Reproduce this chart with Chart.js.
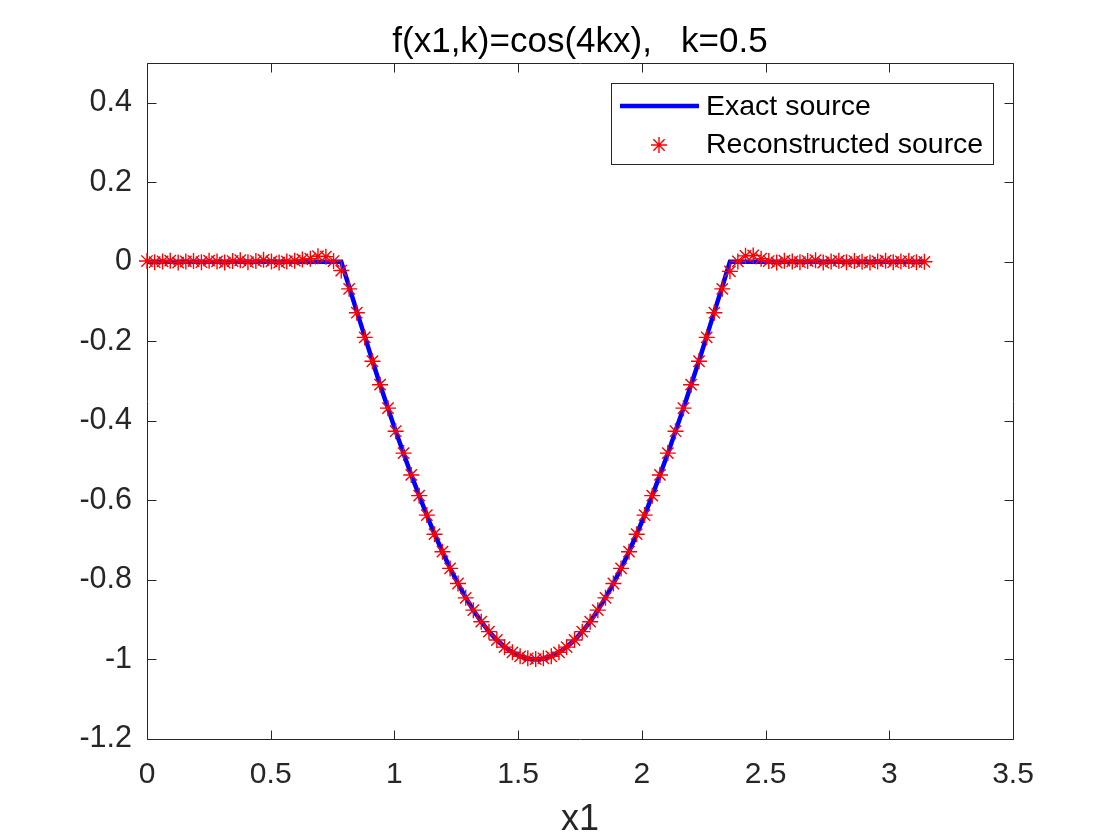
<!DOCTYPE html>
<html>
<head>
<meta charset="utf-8">
<title>f(x1,k)=cos(4kx), k=0.5</title>
<script src="https://cdn.jsdelivr.net/npm/chart.js@4.4.1/dist/chart.umd.min.js"></script>
<style>
  html, body { margin: 0; padding: 0; background: #fff; }
  #wrap { width: 1120px; height: 840px; }
</style>
</head>
<body>
<div id="wrap"><canvas id="chart"></canvas></div>
<script>
// sample positions x1 (0 .. pi)
const xValues = [
  0.000, 0.031, 0.063, 0.094, 0.126, 0.157, 0.188, 0.220, 0.251, 0.283,
  0.314, 0.346, 0.377, 0.408, 0.440, 0.471, 0.503, 0.534, 0.565, 0.597,
  0.628, 0.660, 0.691, 0.723, 0.754, 0.785, 0.817, 0.848, 0.880, 0.911,
  0.942, 0.974, 1.005, 1.037, 1.068, 1.100, 1.131, 1.162, 1.194, 1.225,
  1.257, 1.288, 1.319, 1.351, 1.382, 1.414, 1.445, 1.477, 1.508, 1.539,
  1.571, 1.602, 1.634, 1.665, 1.696, 1.728, 1.759, 1.791, 1.822, 1.853,
  1.885, 1.916, 1.948, 1.979, 2.011, 2.042, 2.073, 2.105, 2.136, 2.168,
  2.199, 2.231, 2.262, 2.293, 2.325, 2.356, 2.388, 2.419, 2.450, 2.482,
  2.513, 2.545, 2.576, 2.608, 2.639, 2.670, 2.702, 2.733, 2.765, 2.796,
  2.827, 2.859, 2.890, 2.922, 2.953, 2.985, 3.016, 3.047, 3.079, 3.110,
  3.142
]

const exactValues = [
  0, 0, 0, 0, 0, 0, 0, 0, 0, 0,
  0, 0, 0, 0, 0, 0, 0, 0, 0, 0,
  0, 0, 0, 0, 0, 0, -0.0628, -0.1253, -0.1874, -0.2487,
  -0.3090, -0.3681, -0.4258, -0.4818, -0.5358, -0.5878, -0.6374, -0.6845, -0.7290, -0.7705,
  -0.8090, -0.8443, -0.8763, -0.9048, -0.9298, -0.9511, -0.9686, -0.9823, -0.9921, -0.9980,
  -1.0000, -0.9980, -0.9921, -0.9823, -0.9686, -0.9511, -0.9298, -0.9048, -0.8763, -0.8443,
  -0.8090, -0.7705, -0.7290, -0.6845, -0.6374, -0.5878, -0.5358, -0.4818, -0.4258, -0.3681,
  -0.3090, -0.2487, -0.1874, -0.1253, -0.0628, 0, 0, 0, 0, 0,
  0, 0, 0, 0, 0, 0, 0, 0, 0, 0,
  0, 0, 0, 0, 0, 0, 0, 0, 0, 0,
  0
]

const reconValues = [
  0.002, -0.001, 0.001, 0.003, -0.002, 0.001, 0.002, -0.001, 0.003, 0.001,
  -0.002, 0.002, 0.004, -0.001, 0.002, 0.005, 0.001, -0.002, 0.001, 0.003,
  0.006, 0.008, 0.014, 0.013, 0.002, -0.022, -0.068, -0.128, -0.190, -0.250,
  -0.309, -0.368, -0.426, -0.481, -0.536, -0.588, -0.637, -0.685, -0.729, -0.771,
  -0.809, -0.845, -0.876, -0.905, -0.930, -0.951, -0.969, -0.982, -0.992, -0.997,
  -0.999, -0.997, -0.992, -0.982, -0.969, -0.951, -0.930, -0.905, -0.876, -0.845,
  -0.809, -0.771, -0.729, -0.685, -0.637, -0.588, -0.536, -0.481, -0.426, -0.368,
  -0.309, -0.250, -0.190, -0.128, -0.068, -0.024, 0.001, 0.015, 0.016, 0.008,
  0.002, -0.002, 0.003, 0.001, -0.001, 0.002, 0.004, -0.002, 0.001, 0.003,
  -0.001, 0.002, 0.000, -0.002, 0.001, 0.003, -0.001, 0.001, 0.002, -0.001,
  0.000
]

const xTicks = [0, 0.5, 1, 1.5, 2, 2.5, 3, 3.5]
const yTicks = [-1.2, -1, -0.8, -0.6, -0.4, -0.2, 0, 0.2, 0.4]
const seriesLabels = ['Exact source', 'Reconstructed source']
const titleText = 'f(x1,k)=cos(4kx),   k=0.5'
const xLabel = 'x1'

const FONT = '"Liberation Sans", Arial, Helvetica, sans-serif'
const AXIS_COLOR = '#262626'

const toPoints = ys => ys.map((y, i) => ({ x: xValues[i], y: y }))

// matlab style box with inward ticks on all four sides
const axesBox = {
	id: 'axesBox',
	beforeDatasetsDraw: (chart) => {
		const { ctx, chartArea: a, scales } = chart
		const len = 9
		ctx.save()
		ctx.strokeStyle = AXIS_COLOR
		ctx.lineWidth = 1
		ctx.beginPath()
		const l = Math.round(a.left) + 0.5, r = Math.round(a.right) + 0.5
		const t = Math.round(a.top) + 0.5, b = Math.round(a.bottom) + 0.5
		ctx.rect(l, t, r - l, b - t)
		xTicks.forEach(v => {
			const px = Math.round(scales.x.getPixelForValue(v)) + 0.5
			ctx.moveTo(px, b); ctx.lineTo(px, b - len)
			ctx.moveTo(px, t); ctx.lineTo(px, t + len)
		})
		yTicks.forEach(v => {
			const py = Math.round(scales.y.getPixelForValue(v)) + 0.5
			ctx.moveTo(l, py); ctx.lineTo(l + len, py)
			ctx.moveTo(r, py); ctx.lineTo(r - len, py)
		})
		ctx.stroke()
		ctx.restore()
	}
}

// boxed legend in the upper right corner of the axes
const boxLegend = {
	id: 'boxLegend',
	afterDraw: (chart) => {
		const { ctx, chartArea: a } = chart
		const ds = chart.data.datasets
		const w = 382, h = 81
		const left = a.right - 20 - w, top = a.top + 20
		ctx.save()
		ctx.fillStyle = '#fff'
		ctx.fillRect(left, top, w, h)
		ctx.strokeStyle = AXIS_COLOR
		ctx.lineWidth = 1
		ctx.strokeRect(Math.round(left) + 0.5, Math.round(top) + 0.5, w, h)

		const row1 = top + 23, row2 = top + 62
		// line sample
		ctx.strokeStyle = ds[0].borderColor
		ctx.lineWidth = ds[0].borderWidth
		ctx.beginPath()
		ctx.moveTo(left + 9, row1); ctx.lineTo(left + 88, row1)
		ctx.stroke()
		// marker sample
		ctx.strokeStyle = ds[1].pointBorderColor
		ctx.fillStyle = ds[1].pointBackgroundColor
		ctx.lineWidth = ds[1].pointBorderWidth
		Chart.helpers.drawPoint(ctx, {
			pointStyle: 'star', radius: ds[1].pointRadius, borderWidth: ds[1].pointBorderWidth
		}, left + 48, row2)
		ctx.restore()

		ctx.save()
		ctx.fillStyle = '#000'
		ctx.font = '28.5px ' + FONT
		ctx.textBaseline = 'middle'
		ctx.fillText(ds[0].label, left + 95, row1 + 1)
		ctx.fillText(ds[1].label, left + 95, row2)
		ctx.restore()
	}
}

Chart.defaults.color = AXIS_COLOR
Chart.defaults.font.family = FONT

const ctx = document.getElementById('chart')
new Chart(ctx, {
	type: 'scatter',
	data: {
		datasets: [{
			label: seriesLabels[0],
			data: toPoints(exactValues),
			showLine: true,
			borderColor: '#0000ff',
			borderWidth: 4.5,
			pointRadius: 0,
			fill: false,
			order: 2,
		}, {
			label: seriesLabels[1],
			data: toPoints(reconValues),
			showLine: false,
			pointStyle: 'star',
			pointRadius: 8,
			pointBorderWidth: 1.4,
			pointBorderColor: '#ff0000',
			pointBackgroundColor: '#ff0000',
			clip: false,
			order: 1,
		}]
	},
	options: {
		responsive: true,
		maintainAspectRatio: false,
		animation: false,
		layout: { padding: { left: 0, right: 107, top: 0, bottom: 0 } },
		plugins: {
			legend: { display: false },
			tooltip: { enabled: false },
			title: {
				display: true,
				text: titleText,
				fullSize: false,
				color: '#000',
				font: { size: 35, weight: 'normal', lineHeight: 1.2 },
				padding: { top: 21, bottom: 0 },
			},
		},
		scales: {
			x: {
				type: 'linear',
				min: 0,
				max: 3.5,
				afterBuildTicks: s => { s.ticks = xTicks.map(v => ({ value: v })) },
				afterFit: s => { s.height = 101 },
				grid: { display: false, drawTicks: false },
				border: { display: false },
				ticks: {
					padding: 18,
					font: { size: 30 },
					color: AXIS_COLOR,
					maxRotation: 0,
					callback: v => String(v),
				},
				title: {
					display: true,
					text: xLabel,
					color: AXIS_COLOR,
					font: { size: 36, lineHeight: 1 },
					padding: { top: 0, bottom: 2 },
				},
			},
			y: {
				type: 'linear',
				min: -1.2,
				max: 0.5,
				afterBuildTicks: s => { s.ticks = yTicks.map(v => ({ value: v })) },
				afterFit: s => { s.width = 147 },
				grid: { display: false, drawTicks: false },
				border: { display: false },
				ticks: {
					padding: 15,
					font: { size: 30.5 },
					color: AXIS_COLOR,
					callback: v => String(v),
				},
			},
		},
	},
	plugins: [axesBox, boxLegend],
})
</script>
</body>
</html>
